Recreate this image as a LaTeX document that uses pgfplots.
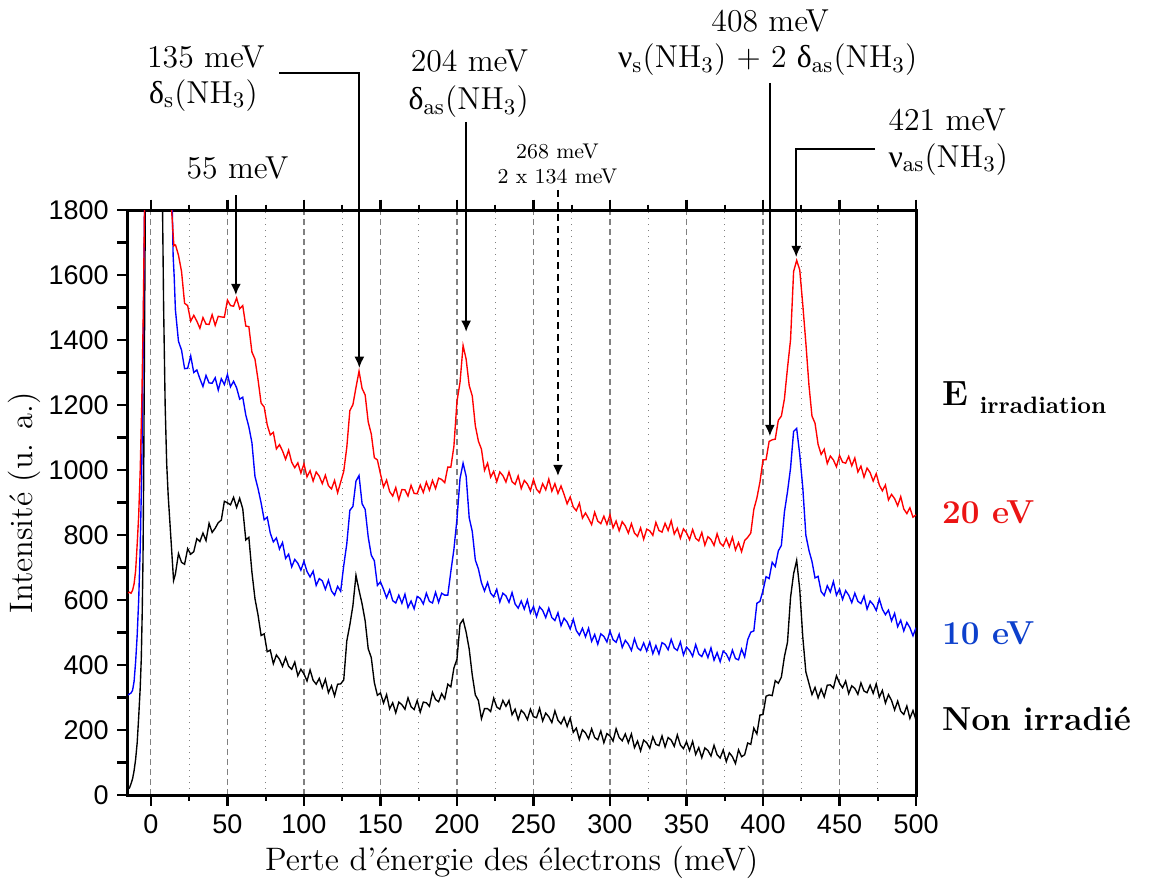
\documentclass[border=0pt]{standalone}
\usepackage{fontspec}
\usepackage{pgfplots}
\pgfplotsset{compat=1.18}
\usepackage{pgfplotstable}
\usetikzlibrary{arrows.meta}
\newfontfamily\ticksf{Liberation Sans}
\newfontfamily\grk{Liberation Serif}
\definecolor{lblred}{rgb}{0.92,0.08,0.08}
\definecolor{lblblue}{rgb}{0.05,0.25,0.8}
\newcommand{\ann}{\fontsize{12.7}{15}\selectfont}
\newcommand{\smallann}{\fontsize{8.5}{10}\selectfont}
\newcommand{\dl}{{\grk δ}}
\newcommand{\nul}{{\grk ν}}
\newcommand{\NH}{(NH\textsubscript{3})}

\pgfplotstableread{
E R B K
16 1694 1493 680
18 1661 1396 743
20 1611 1369 716
22 1513 1312 710
24 1506 1313 758
26 1458 1351 741
28 1476 1300 749
30 1458 1308 789
32 1436 1281 780
34 1469 1257 806
36 1449 1291 783
38 1448 1268 836
40 1478 1267 808
42 1445 1284 821
44 1473 1246 838
46 1471 1281 846
48 1470 1263 904
50 1523 1294 899
52 1506 1256 893
54 1504 1273 916
56 1529 1253 885
58 1496 1218 913
60 1506 1224 881
62 1443 1169 785
64 1441 1133 793
66 1363 1084 686
68 1341 980 604
70 1278 943 554
72 1206 899 491
74 1194 847 496
76 1139 855 441
78 1108 806 446
80 1116 779 404
82 1065 791 431
84 1078 757 418
86 1059 777 396
88 1033 728 423
90 1061 741 396
92 1024 702 387
94 1007 725 409
96 1022 713 367
98 991 692 387
100 1019 719 373
102 979 688 351
104 998 671 385
106 966 689 353
108 994 645 341
110 981 666 359
112 958 659 330
114 984 633 356
116 952 661 315
118 942 628 336
120 968 615 305
122 930 642 341
124 963 627 342
126 996 706 354
128 1070 773 474
130 1183 876 524
132 1201 888 583
134 1254 966 676
136 1304 983 630
138 1251 896 588
140 1231 879 536
142 1148 794 450
144 1111 738 423
146 1038 721 346
148 1031 645 307
150 988 656 314
152 948 633 283
154 969 607 309
156 934 631 265
158 920 598 284
160 946 591 253
162 908 615 286
164 940 590 278
166 939 618 264
168 920 577 299
170 953 597 272
172 928 573 263
174 927 611 291
176 954 605 255
178 931 588 286
180 963 621 284
182 938 596 273
184 968 591 316
186 943 624 294
188 975 593 287
190 971 621 312
192 961 615 296
194 1009 615 341
196 1009 688 333
198 1073 756 391
200 1211 849 418
202 1270 974 526
204 1383 1021 540
206 1341 981 501
208 1260 853 449
210 1228 811 369
212 1136 723 308
214 1089 696 291
216 1064 653 235
218 999 628 266
220 1021 654 266
222 978 621 257
224 996 610 298
226 964 633 271
228 994 594 264
230 983 621 291
232 963 613 273
234 994 593 291
236 964 623 247
238 956 588 264
240 982 575 232
242 943 597 261
244 968 572 251
246 957 600 232
248 937 560 264
250 971 580 241
252 941 549 238
254 930 579 267
256 958 568 228
258 939 546 252
260 972 575 241
262 935 546 223
264 958 537 259
266 928 561 230
268 951 521 219
270 925 544 239
272 896 532 211
274 917 511 237
276 886 541 193
278 875 506 206
280 898 492 171
282 852 513 201
284 868 487 191
286 851 513 173
288 832 473 204
290 870 494 177
292 843 464 170
294 835 496 197
296 858 488 161
298 833 471 189
300 862 504 182
302 822 478 166
304 843 470 204
306 813 495 177
308 841 454 167
310 828 476 188
312 806 464 161
314 835 445 188
316 806 481 146
318 796 453 166
320 822 445 136
322 787 468 169
324 818 443 161
326 813 471 144
328 799 435 179
330 839 460 156
332 814 434 152
334 809 469 182
336 836 463 148
338 814 447 177
340 844 479 169
342 803 452 150
344 821 445 185
346 790 471 154
348 819 431 143
350 807 455 164
352 786 445 137
354 817 427 165
356 790 463 125
358 782 434 146
360 808 426 115
362 769 448 145
364 795 423 137
366 786 453 120
368 768 415 153
370 804 438 124
372 775 410 114
374 766 443 139
376 789 434 103
378 764 415 130
380 793 446 118
382 754 420 97
384 777 416 139
386 749 449 118
388 783 425 124
390 793 478 160
392 806 501 156
394 879 505 206
396 914 590 188
398 963 596 246
400 1031 629 248
402 1032 672 304
404 1088 666 308
406 1093 716 306
408 1095 703 352
410 1153 751 344
412 1166 768 363
414 1219 871 426
416 1314 933 470
418 1401 1006 608
420 1611 1119 681
422 1645 1128 722
424 1616 1048 633
426 1508 946 486
428 1391 800 379
430 1263 753 344
432 1166 719 309
434 1144 668 331
436 1079 673 299
438 1048 626 326
440 1064 614 302
442 1020 644 338
444 1043 625 339
446 1031 657 329
448 1010 615 367
450 1045 634 344
452 1024 602 330
454 1021 629 351
456 1042 615 312
458 1013 592 336
460 1037 621 328
462 994 596 310
464 1012 589 345
466 978 612 320
468 1006 572 315
470 992 597 338
472 966 586 313
474 989 568 342
476 954 603 301
478 936 572 322
480 954 555 283
482 908 569 309
484 925 536 291
486 912 559 262
488 890 518 289
490 918 538 258
492 880 505 248
494 866 531 274
496 884 515 236
498 855 490 260
500 862 515 231
}\spec

\begin{document}
\begin{tikzpicture}
\begin{axis}[
  scale only axis, width=315.2pt, height=234pt,
  xmin=-15, xmax=500, ymin=0, ymax=1800,
  xtick={0,50,...,500}, minor x tick num=1,
  ytick={0,100,...,1800},
  yticklabels={0,,200,,400,,600,,800,,1000,,1200,,1400,,1600,,1800},
  xtick pos=both, ytick pos=left,
  tick align=outside,
  major tick length=4.2pt, minor tick length=2.2pt,
  tick style={black, line width=0.9pt},
  axis line style={line width=1.2pt},
  xmajorgrids, xminorgrids,
  major grid style={gray, dash pattern=on 2.5pt off 1.5pt, line width=0.45pt},
  minor grid style={gray, dotted, line width=0.45pt},
  ticklabel style={font=\ticksf\fontsize{10.8}{12}\selectfont},
  /pgf/number format/assume math mode=true,
  /pgf/number format/1000 sep={},
  xlabel={Perte d’énergie des électrons (meV)},
  ylabel={Intensité (u. a.)},
  label style={font=\fontsize{13}{15}\selectfont},
  xlabel style={at={(axis description cs:0.487,-0.1145)}, anchor=center},
  ylabel style={at={(axis description cs:-0.131,0.5)}, anchor=center},
]
% black (non irradie)
\addplot[black, line width=0.55pt] coordinates {
(-15,30) (-14.5,20) (-14,22) (-13,35) (-12,50) (-11,75) (-10,110) (-9,160) (-8,240) (-7,330) (-6.3,420) (-5.7,560) (-5.2,720) (-4.7,1000) (-4.2,1400) (-3.6,1850) (0,8000) (4,4000) (7.6,1800) (8.3,1500) (9.3,1200) (10.3,1020) (11.3,920) (12.6,824) (13.7,742) (14.8,660) (16,680)};
\addplot[black, line width=0.55pt] table[x=E, y=K] {\spec};
% blue (10 eV)
\addplot[blue, line width=0.55pt] coordinates {
(-15,308) (-14,311) (-13,314) (-12,322) (-11,350) (-10,410) (-9,490) (-8,600) (-7,760) (-6,1000) (-5,1400) (-4.2,1800) (-3,2600) (0,5000) (6,4000) (10,3000) (14,1800) (14.5,1660) (15.2,1595) (16,1493)};
\addplot[blue, line width=0.55pt] table[x=E, y=B] {\spec};
% red (20 eV)
\addplot[red, line width=0.55pt] coordinates {
(-15,622) (-14,624) (-13,621) (-12,630) (-11,650) (-10,690) (-9,770) (-8,860) (-7,1000) (-6,1200) (-5,1480) (-4.2,1800) (-3,2600) (0,5000) (6,4000) (10,2700) (13.5,1800) (15,1690) (16,1694)};
\addplot[red, line width=0.55pt] table[x=E, y=R] {\spec};

% coordinates for annotations
\coordinate (bbsw) at (rel axis cs:-0.1624,-0.1538);
\coordinate (bbne) at (rel axis cs:1.3058,1.359);
\coordinate (t55) at (axis cs:55.5,1846);
\coordinate (h55) at (axis cs:55.5,1538);
\coordinate (n55) at (axis cs:56.6,1898);
\coordinate (s135) at (axis cs:83.8,2222);
\coordinate (c135) at (axis cs:136.2,2222);
\coordinate (h135) at (axis cs:136.2,1314);
\coordinate (n135a) at (axis cs:35.9,2240);
\coordinate (n135b) at (axis cs:34.3,2129);
\coordinate (t204) at (axis cs:206,2071);
\coordinate (h204) at (axis cs:206,1425);
\coordinate (n204a) at (axis cs:208.2,2225);
\coordinate (n204b) at (axis cs:207.6,2108);
\coordinate (t268) at (axis cs:266,1862);
\coordinate (h268) at (axis cs:266,981);
\coordinate (n268a) at (axis cs:265.7,1960);
\coordinate (n268b) at (axis cs:265.7,1883);
\coordinate (t408) at (axis cs:404.5,2191);
\coordinate (h408) at (axis cs:404.5,1104);
\coordinate (n408a) at (axis cs:404.7,2348);
\coordinate (n408b) at (axis cs:403,2237);
\coordinate (s421) at (axis cs:473.2,1988);
\coordinate (c421) at (axis cs:421.7,1988);
\coordinate (h421) at (axis cs:421.7,1655);
\coordinate (n421a) at (axis cs:481.7,2046);
\coordinate (n421b) at (axis cs:481.7,1932);
\coordinate (lE) at (axis cs:516.8,1200);
\coordinate (l20) at (axis cs:516.8,837);
\coordinate (l10) at (axis cs:516.8,462);
\coordinate (l0) at (axis cs:516.8,200);
\end{axis}

\tikzset{ar/.style={line width=0.8pt, -{Latex[length=4.5pt,width=4pt]}}}
\draw[ar] (t55) -- (h55);
\node[anchor=base, inner sep=0pt, font=\ann] at (n55) {55 meV};
\draw[ar] (s135) -- (c135) -- (h135);
\node[anchor=base, inner sep=0pt, font=\ann] at (n135a) {135 meV};
\node[anchor=base, inner sep=0pt, font=\ann] at (n135b) {\dl\textsubscript{s}\NH};
\draw[ar] (t204) -- (h204);
\node[anchor=base, inner sep=0pt, font=\ann] at (n204a) {204 meV};
\node[anchor=base, inner sep=0pt, font=\ann] at (n204b) {\dl\textsubscript{as}\NH};
\draw[line width=1.1pt, dash pattern=on 3pt off 1.8pt, -{Latex[length=4.5pt,width=4pt]}] (t268) -- (h268);
\node[anchor=base, inner sep=0pt, font=\smallann] at (n268a) {268 meV};
\node[anchor=base, inner sep=0pt, font=\smallann] at (n268b) {2 x 134 meV};
\draw[ar] (t408) -- (h408);
\node[anchor=base, inner sep=0pt, font=\ann] at (n408a) {408 meV};
\node[anchor=base, inner sep=0pt, font=\ann] at (n408b) {\nul\textsubscript{s}\NH\ + 2 \dl\textsubscript{as}\NH};
\draw[ar] (s421) -- (c421) -- (h421);
\node[anchor=base west, inner sep=0pt, font=\ann] at (n421a) {421 meV};
\node[anchor=base west, inner sep=0pt, font=\ann] at (n421b) {\nul\textsubscript{as}\NH};
\node[anchor=base west, inner sep=0pt] at (lE) {\bfseries\fontsize{14}{16}\selectfont E\hspace{4.7pt}\raisebox{-3.2pt}{\fontsize{9.5}{11}\selectfont irradiation}};
\node[anchor=base west, inner sep=0pt, text=lblred] at (l20) {\bfseries\fontsize{13.3}{15}\selectfont 20 eV};
\node[anchor=base west, inner sep=0pt, text=lblblue] at (l10) {\bfseries\fontsize{13.3}{15}\selectfont 10 eV};
\node[anchor=base west, inner sep=0pt] at (l0) {\bfseries\fontsize{13.3}{15}\selectfont Non irradié};
\pgfresetboundingbox
\path (bbsw) rectangle (bbne);
\end{tikzpicture}
\end{document}
